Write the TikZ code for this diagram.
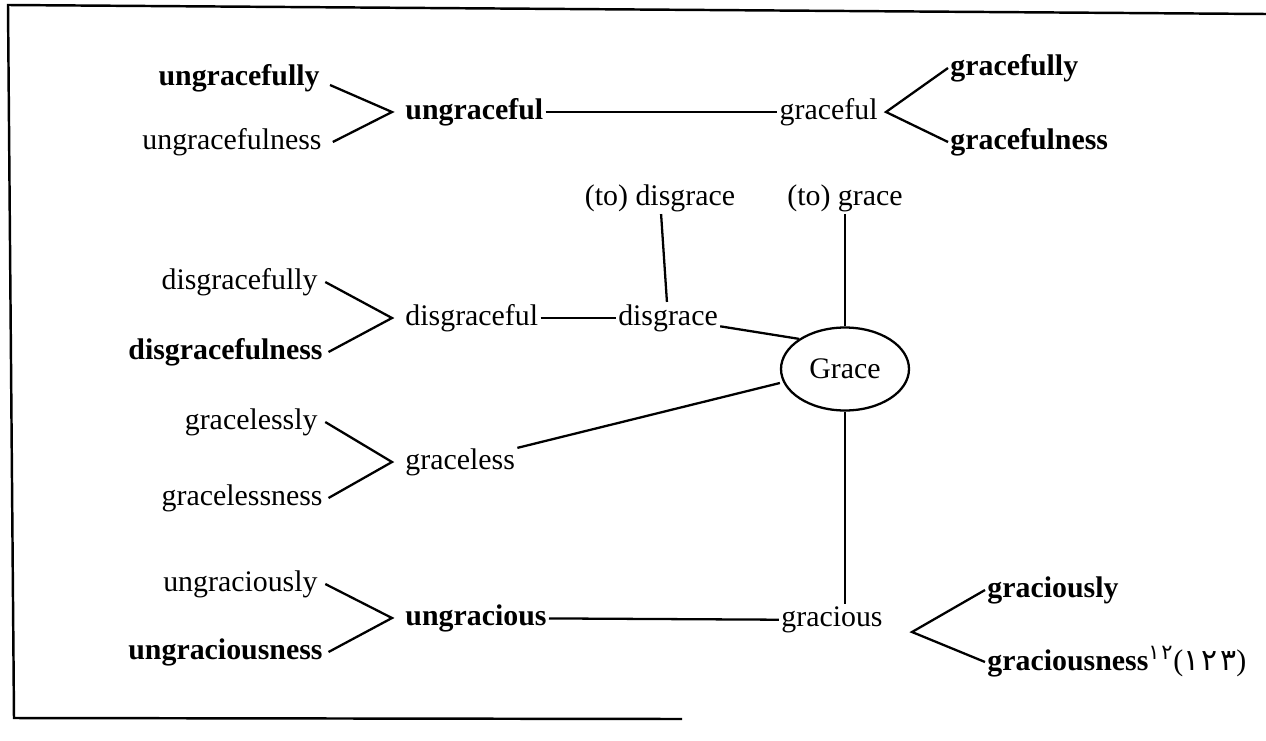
\documentclass[tikz,border=0pt]{standalone}
\usepackage{fontspec}
\setmainfont{Liberation Serif}
\newfontfamily\farsifont[Script=Arabic,LetterSpace=8]{DejaVu Sans}
\usetikzlibrary{shapes.geometric}

\tikzset{
  word/.style={inner sep=1pt, font=\fontsize{17}{20}\selectfont},
  bword/.style={word, font=\fontsize{17}{20}\selectfont\bfseries},
  link/.style={line width=1.3pt},
}

\begin{document}
\begin{tikzpicture}[x=0.02cm, y=-0.02cm, thick]
            \useasboundingbox (0,0) rectangle (1266,740);
            % frame
            \draw[line width=1.4pt] (1266,14) -- (8,5) -- (14,718) -- (682,719);

            % upper row
            \node[bword, anchor=east] (ugfly) at (322,78) {ungracefully};
            \node[word, anchor=east] (ugfness) at (324,142) {ungracefulness};
            \node[bword, anchor=west] (ugf) at (403,112) {ungraceful};
            \node[word, anchor=east] (gf) at (880,112) {graceful};
            \node[bword, anchor=west] (gfly) at (948,68) {gracefully};
            \node[bword, anchor=west] (gfness) at (948,142) {gracefulness};
            \coordinate (v1) at (392,112); \coordinate (v2) at (886,112);
            \draw[link] (ugfly.east) ++(8,7) -- (v1) -- ([xshift=5pt]ugfness.east);
            \draw[link] (ugf) -- (gf);
            \draw[link] (gfly.west) -- (v2) -- (gfness.west);

            % verbs
            \node[word] (todis) at (660,198) {(to) disgrace};
            \node[word] (togr) at (845,198) {(to) grace};

            % Grace
            \node[word, draw, ellipse, line width=1.3pt, minimum width=2.56cm, minimum height=1.66cm, inner sep=0pt] (grace) at (845,369) {Grace};

            % disgrace row
            \node[word, anchor=east] (dgfly) at (320,282) {disgracefully};
            \node[bword, anchor=east] (dgfness) at (325,352) {disgracefulness};
            \node[word, anchor=west] (dgf) at (403,318) {disgraceful};
            \node[word] (dg) at (668,318) {disgrace};
            \coordinate (v3) at (392,318);
            \draw[link] ([xshift=3pt]dgfly.east) -- (v3) -- ([xshift=2pt]dgfness.east);
            \draw[link] (dgf) -- (dg);
            \draw[link] (dg) -- (todis);
            \draw[link] (dg) -- (grace.north west);
            \draw[line width=1pt] (togr) -- (grace);

            % graceless row
            \node[word, anchor=east] (glly) at (320,422) {gracelessly};
            \node[word, anchor=east] (glness) at (325,498) {gracelessness};
            \node[word, anchor=west] (gl) at (403,462) {graceless};
            \coordinate (v4) at (392,462);
            \draw[link] ([xshift=3pt]glly.east) -- (v4) -- ([xshift=2pt]glness.east);
            \draw[link] (gl) -- (grace.west |- 0,383);

            % gracious row
            \node[word, anchor=east] (ugsly) at (320,584) {ungraciously};
            \node[bword, anchor=east] (ugsness) at (325,652) {ungraciousness};
            \node[bword, anchor=west] (ugs) at (403,618) {ungracious};
            \node[word] (gs) at (832,620) {gracious};
            \node[bword, anchor=west] (gsly) at (985,590) {graciously};
            \node[bword, anchor=west] (gsness) at (985,662) {graciousness\textsuperscript{{\mdseries\farsifont ١٢}}{\mdseries({\farsifont ١٢٣})}};
            \coordinate (v5) at (392,618); \coordinate (v6) at (912,632);
            \draw[link] ([xshift=3pt]ugsly.east) -- (v5) -- ([xshift=2pt]ugsness.east);
            \draw[link] (ugs) -- (gs);
            \draw[line width=1pt] (grace) -- (grace |- gs.north);
            \draw[link] (gsly.west) -- (v6) -- (gsness.west);
        \end{tikzpicture}
\end{document}
